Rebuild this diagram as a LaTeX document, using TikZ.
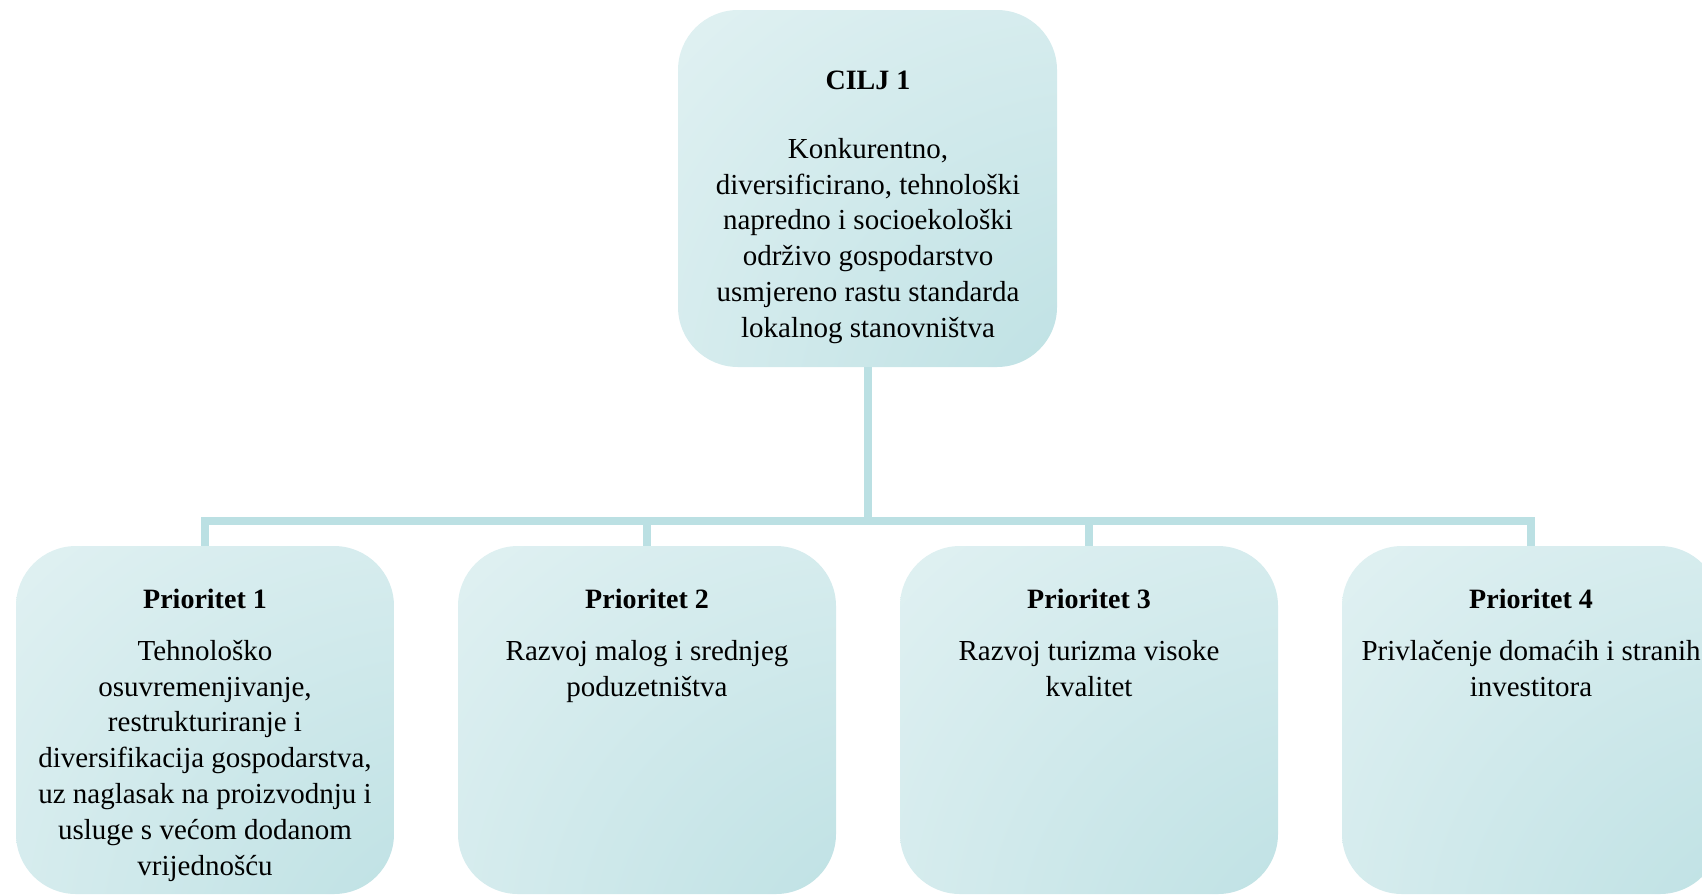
\documentclass[tikz,border=0pt]{standalone}
\usepackage{fontspec}
\setmainfont{Liberation Serif}
\usepackage{tikz}
\usetikzlibrary{
    shadings,
    calc
}

\definecolor{boxlight}{RGB}{229,243,244}
\definecolor{boxdark}{RGB}{186,223,226}
\definecolor{linkcol}{RGB}{187,224,227}

\pgfdeclareradialshading{boxshade}{\pgfpoint{48bp}{-48bp}}{%
    color(0bp)=(boxdark); color(12bp)=(boxdark);
    color(75bp)=(boxlight); color(130bp)=(boxlight)}

\newcommand{\boxfont}{\fontsize{29}{35.8}\selectfont}

\tikzset{
    goalbox/.style={shade, shading=boxshade, rounded corners=60pt,
        minimum width=379pt, minimum height=357pt, inner sep=0pt},
    priobox/.style={shade, shading=boxshade, rounded corners=60pt,
        minimum width=378pt, minimum height=348pt, inner sep=0pt},
    link/.style={draw=linkcol, line width=8pt},
    head/.style={font=\fontsize{28}{35.8}\selectfont\bfseries, anchor=base, inner sep=0pt},
    body/.style={font=\boxfont, align=center, anchor=north, inner sep=0pt}
}

\begin{document}
\begin{tikzpicture}[x=1pt, y=-1pt]
    \useasboundingbox (0,0) rectangle (1702,895);
    \clip (0,0) rectangle (1702,895);

    % cilj
    \node[goalbox] (cilj) at (867.5,188.5) {};
    \node[head] (ciljh) at (868,89) {CILJ 1};
    \node[body] (ciljt) at (868,138) {Konkurentno,\\ diversificirano, tehnološki\\ napredno i socioekološki\\ održivo gospodarstvo\\ usmjereno rastu standarda\\ lokalnog stanovništva};

    % prioriteti
    \node[priobox] (p1) at (205,720) {};
    \node[priobox] (p2) at (647,720) {};
    \node[priobox] (p3) at (1089,720) {};
    \node[priobox] (p4) at (1531,720) {};

    \node[head] (p1h) at (205,608) {Prioritet 1};
    \node[head] (p2h) at (647,608) {Prioritet 2};
    \node[head] (p3h) at (1089,608) {Prioritet 3};
    \node[head] (p4h) at (1531,608) {Prioritet 4};

    \node[body] (p1t) at (205,640) {Tehnološko\\ osuvremenjivanje,\\ restrukturiranje i\\ diversifikacija gospodarstva,\\ uz naglasak na proizvodnju i\\ usluge s većom dodanom\\ vrijednošću};
    \node[body] (p2t) at (647,640) {Razvoj malog i srednjeg\\ poduzetništva};
    \node[body] (p3t) at (1089,640) {Razvoj turizma visoke\\ kvalitet};
    \node[body] (p4t) at (1531,640) {Privlačenje domaćih i stranih\\ investitora};

    % veze
    \draw[link] (cilj.south) -- ++(0,154) -| (p1.north);
    \draw[link] (cilj.south) -- ++(0,154) -| (p2.north);
    \draw[link] (cilj.south) -- ++(0,154) -| (p3.north);
    \draw[link] (cilj.south) -- ++(0,154) -| (p4.north);
\end{tikzpicture}
\end{document}
